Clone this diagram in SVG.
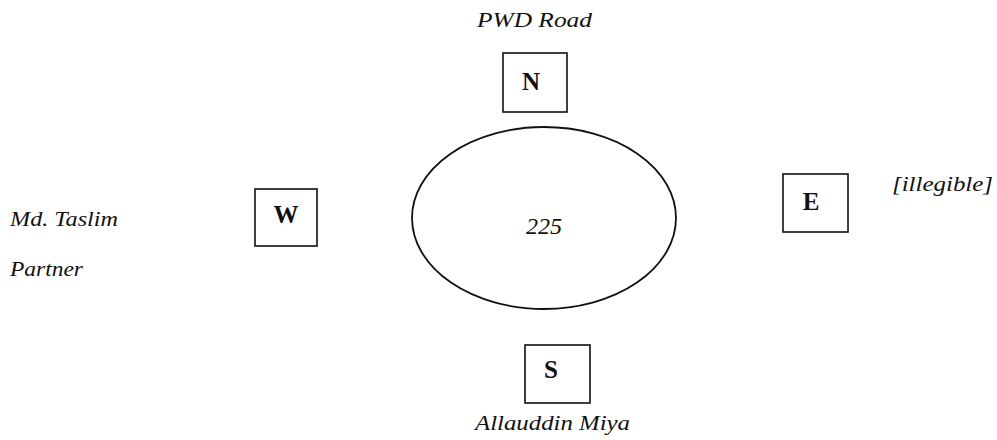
<svg xmlns="http://www.w3.org/2000/svg" width="997" height="440" viewBox="0 0 997 440">
<style>
.bg{fill:#ffffff}
.box{fill:#ffffff;stroke:#111111;stroke-width:1.6}
.plot{fill:#ffffff;stroke:#111111;stroke-width:1.8}
.dir{font-family:"Liberation Serif","Times New Roman",serif;font-weight:bold;font-size:25px;fill:#111111;text-anchor:middle}
.lbl{font-family:"Liberation Serif","Times New Roman",serif;font-style:italic;font-size:22px;fill:#111111}
.num{font-family:"Liberation Serif","Times New Roman",serif;font-style:italic;font-size:24px;fill:#111111;text-anchor:middle}
</style>
<rect class="bg" x="0" y="0" width="997" height="440"/>
<g id="plot">
<ellipse class="plot" cx="544" cy="218" rx="132" ry="91"/>
<text class="num" x="544" y="234">225</text>
</g>
<g id="north">
<rect class="box" x="503" y="53" width="64" height="59"/>
<text class="dir" x="531" y="90">N</text>
</g>
<g id="west">
<rect class="box" x="255" y="189" width="62" height="57"/>
<text class="dir" x="286" y="223">W</text>
</g>
<g id="east">
<rect class="box" x="783" y="174" width="65" height="58"/>
<text class="dir" x="811" y="210">E</text>
</g>
<g id="south">
<rect class="box" x="525" y="345" width="65" height="58"/>
<text class="dir" x="551" y="378">S</text>
</g>
<g id="labels">
<text class="lbl" x="477" y="27" textLength="115" lengthAdjust="spacingAndGlyphs">PWD Road</text>
<text class="lbl" x="10" y="226" textLength="108" lengthAdjust="spacingAndGlyphs">Md. Taslim</text>
<text class="lbl" x="10" y="276" textLength="73" lengthAdjust="spacingAndGlyphs">Partner</text>
<text class="lbl" x="892" y="191" textLength="101" lengthAdjust="spacingAndGlyphs">[illegible]</text>
<text class="lbl" x="475" y="430" textLength="155" lengthAdjust="spacingAndGlyphs">Allauddin Miya</text>
</g>
</svg>
